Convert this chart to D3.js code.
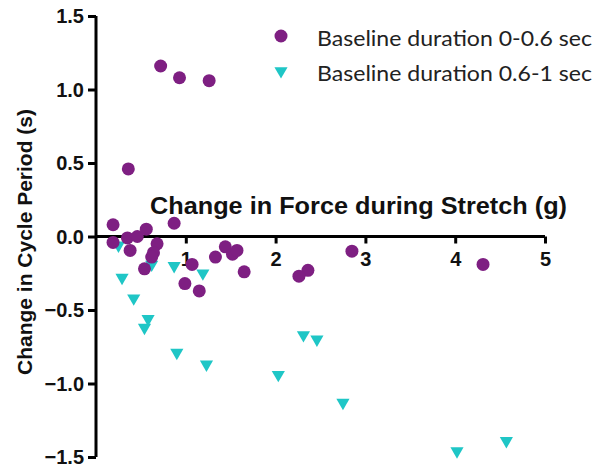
<!DOCTYPE html>
<html>
<head>
<meta charset="utf-8">
<script src="https://cdn.jsdelivr.net/npm/d3@7"></script>
<style>
  body { margin: 0; background: #fff; }
  svg { display: block; }
  .tick text { font-family: "Liberation Sans", Arial, sans-serif; font-weight: bold; font-size: 20px; fill: #111; }
</style>
</head>
<body>
<div id="chart"></div>
<script>
// baseline duration 0-0.6 sec
const shortX = [0.72, 0.93, 1.26, 0.36, 0.19, 0.87, 0.19, 0.35, 0.46, 0.56, 0.38, 0.68, 0.64, 0.62, 0.54, 1.07, 0.99, 1.15, 1.33, 1.44, 1.52, 1.57, 1.65, 2.85, 2.36, 2.26, 4.31];
const shortY = [1.16, 1.08, 1.06, 0.46, 0.08, 0.09, -0.04, -0.01, 0.0, 0.05, -0.095, -0.05, -0.11, -0.14, -0.22, -0.19, -0.32, -0.37, -0.14, -0.07, -0.12, -0.095, -0.24, -0.10, -0.23, -0.27, -0.19];
// baseline duration 0.6-1 sec
const longX = [0.25, 0.29, 0.62, 0.87, 1.19, 0.42, 0.58, 0.54, 0.90, 1.23, 2.03, 2.31, 2.46, 2.75, 4.02, 4.57];
const longY = [-0.06, -0.28, -0.19, -0.20, -0.25, -0.42, -0.56, -0.62, -0.79, -0.87, -0.94, -0.67, -0.70, -1.13, -1.46, -1.39];

const xTicks = [1, 2, 3, 4, 5];
const yTicks = [-1.5, -1.0, -0.5, 0.0, 0.5, 1.0, 1.5];
const legendLabels = ["Baseline duration 0-0.6 sec", "Baseline duration 0.6-1 sec"];

const W = 599, H = 466;
const purple = "#7e1f82", cyan = "#1fc6c6";

const x = d3.scaleLinear().domain([0, 5]).range([96, 545]);
const y = d3.scaleLinear().domain([-1.5, 1.5]).range([457, 16]);

const svg = d3.select("#chart").append("svg")
    .attr("width", W)
    .attr("height", H);

// y axis
const yAxis = svg.append("g")
    .attr("transform", `translate(${x(0)},0)`)
    .call(d3.axisLeft(y).tickValues(yTicks).tickFormat(d3.format(".1f")).tickSize(8).tickPadding(4));
yAxis.select(".domain").attr("stroke", "#000").attr("stroke-width", 3)
    .attr("d", `M0,${y(-1.5)}V${y(1.5)}`);
yAxis.selectAll(".tick line").attr("stroke", "#000").attr("stroke-width", 3);
yAxis.selectAll(".tick text").attr("dy", "0.34em");

// x axis crossing at y = 0
const xAxis = svg.append("g")
    .attr("transform", `translate(0,${y(0)})`)
    .call(d3.axisBottom(x).tickValues(xTicks).tickFormat(d3.format("d")).tickSize(7).tickPadding(8));
xAxis.select(".domain").attr("stroke", "#000").attr("stroke-width", 3)
    .attr("d", `M${x(0)},0H${x(5)}`);
xAxis.selectAll(".tick line").attr("stroke", "#000").attr("stroke-width", 3);

// axis titles
svg.append("text")
    .attr("x", 150).attr("y", 214)
    .attr("textLength", 417).attr("lengthAdjust", "spacingAndGlyphs")
    .style("font-family", "Liberation Sans, Arial, sans-serif")
    .style("font-weight", "bold").style("font-size", "23px").style("fill", "#111")
    .text("Change in Force during Stretch (g)");

svg.append("text")
    .attr("transform", `translate(32,242) rotate(-90)`)
    .attr("text-anchor", "middle")
    .attr("textLength", 266).attr("lengthAdjust", "spacingAndGlyphs")
    .style("font-family", "Liberation Sans, Arial, sans-serif")
    .style("font-weight", "bold").style("font-size", "21px").style("fill", "#111")
    .text("Change in Cycle Period (s)");

// points
const tri = d3.symbol().type(d3.symbolTriangle).size(75);

svg.append("g").selectAll("path")
    .data(d3.zip(longX, longY))
    .join("path")
    .attr("d", tri)
    .attr("transform", d => `translate(${x(d[0])},${y(d[1])}) rotate(180)`)
    .attr("fill", cyan);

svg.append("g").selectAll("circle")
    .data(d3.zip(shortX, shortY))
    .join("circle")
    .attr("cx", d => x(d[0]))
    .attr("cy", d => y(d[1]))
    .attr("r", 6.5)
    .attr("fill", purple);

// legend
const legend = svg.append("g");
legend.append("circle").attr("cx", 281).attr("cy", 36).attr("r", 6.5).attr("fill", purple);
legend.append("path").attr("d", tri).attr("transform", "translate(281,71) rotate(180)").attr("fill", cyan);
legend.selectAll("text")
    .data(legendLabels)
    .join("text")
    .attr("x", 317)
    .attr("y", (d, i) => 46 + i * 35)
    .attr("textLength", 275).attr("lengthAdjust", "spacingAndGlyphs")
    .style("font-family", "Lato, sans-serif")
    .style("font-size", "22px")
    .style("fill", "#222")
    .text(d => d);
</script>
</body>
</html>
